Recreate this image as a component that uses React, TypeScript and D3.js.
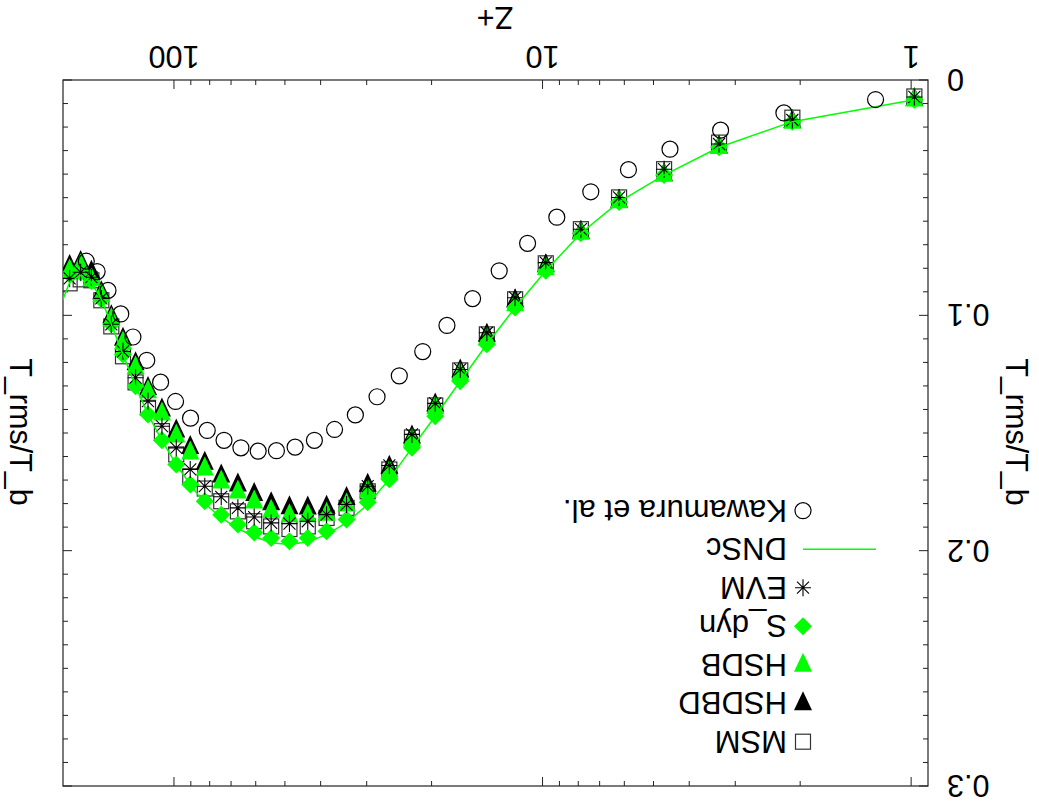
import React from 'react';
import * as d3 from 'd3';

// Z+ grid of the LES runs and DNS
const zLES = [0.98, 2.10, 3.32, 4.68, 6.20, 7.87, 9.80, 11.87, 14.16, 16.72, 19.55, 22.61, 26.04, 29.81, 34.02, 38.54, 43.35, 48.60, 54.49, 60.58, 67.08, 74.43, 82.49, 90.33, 98.58, 107.8, 117.6, 127.1, 137.5, 147.9, 157.4, 167.5, 179.1, 191.9];

const tMSM = [0.0070, 0.0160, 0.0266, 0.0379, 0.0499, 0.0634, 0.0779, 0.0932, 0.1081, 0.1234, 0.1383, 0.1519, 0.1655, 0.1748, 0.1818, 0.1861, 0.1897, 0.1908, 0.1897, 0.1875, 0.1833, 0.1790, 0.1736, 0.1684, 0.1591, 0.1492, 0.1393, 0.1285, 0.1174, 0.1047, 0.0936, 0.0851, 0.0847, 0.0864];
const tHSDBD = [0.0081, 0.0174, 0.0283, 0.0400, 0.0513, 0.0645, 0.0787, 0.0936, 0.1083, 0.1234, 0.1379, 0.1515, 0.1643, 0.1720, 0.1776, 0.1813, 0.1817, 0.1816, 0.1798, 0.1759, 0.1719, 0.1681, 0.1626, 0.1560, 0.1489, 0.1400, 0.1309, 0.1204, 0.1100, 0.1004, 0.0902, 0.0815, 0.0773, 0.0790];
const tHSDB = [0.0083, 0.0177, 0.0285, 0.0402, 0.0515, 0.0649, 0.0800, 0.0953, 0.1098, 0.1247, 0.1391, 0.1528, 0.1664, 0.1745, 0.1804, 0.1843, 0.1849, 0.1849, 0.1830, 0.1791, 0.1749, 0.1706, 0.1651, 0.1583, 0.1511, 0.1417, 0.1323, 0.1221, 0.1115, 0.1017, 0.0915, 0.0847, 0.0787, 0.0809];
const tSdyn = [0.0084, 0.0177, 0.0286, 0.0404, 0.0518, 0.0651, 0.0811, 0.0967, 0.1123, 0.1280, 0.1429, 0.1563, 0.1696, 0.1794, 0.1868, 0.1918, 0.1946, 0.1960, 0.1946, 0.1923, 0.1889, 0.1847, 0.1790, 0.1719, 0.1634, 0.1531, 0.1421, 0.1301, 0.1166, 0.1038, 0.0932, 0.0854, 0.0818, 0.0826];
const tEVM = [0.0072, 0.0170, 0.0272, 0.0379, 0.0499, 0.0634, 0.0776, 0.0925, 0.1074, 0.1230, 0.1374, 0.1506, 0.1638, 0.1726, 0.1804, 0.1847, 0.1875, 0.1885, 0.1882, 0.1857, 0.1818, 0.1771, 0.1726, 0.1655, 0.1563, 0.1471, 0.1365, 0.1265, 0.1153, 0.1038, 0.0928, 0.0838, 0.0817, 0.0843];

const zDNS = [0.98, 2.10, 3.32, 4.68, 6.20, 7.87, 9.80, 11.87, 14.16, 16.72, 19.55, 22.61, 26.04, 29.81, 34.02, 38.54, 43.35, 48.60, 54.49, 60.58, 67.08, 74.43, 82.49, 90.33, 98.58, 107.8, 117.6, 127.1, 137.5, 147.9, 157.4, 167.5, 179.1, 191.9, 205];
const tDNS = [0.0084, 0.0177, 0.0286, 0.0404, 0.0518, 0.0651, 0.0811, 0.0967, 0.1123, 0.1280, 0.1429, 0.1563, 0.1696, 0.1804, 0.1881, 0.1932, 0.1962, 0.1974, 0.1966, 0.1940, 0.1906, 0.1860, 0.1800, 0.1719, 0.1634, 0.1531, 0.1421, 0.1301, 0.1166, 0.1038, 0.0932, 0.0860, 0.0830, 0.0860, 0.0974];

const zKaw = [1.249, 2.214, 3.288, 4.511, 5.847, 7.398, 9.148, 10.98, 13.11, 15.48, 18.17, 21.14, 24.47, 28.12, 32.20, 36.67, 41.59, 46.92, 52.72, 59.09, 65.82, 73.14, 81.23, 90.16, 99.01, 108.7, 118.5, 129.2, 139.4, 151.0, 161.6, 172.9];
const tKaw = [0.0083, 0.0140, 0.0213, 0.0294, 0.0381, 0.0475, 0.0583, 0.0694, 0.0811, 0.0929, 0.1043, 0.1154, 0.1257, 0.1346, 0.1423, 0.1485, 0.1531, 0.1560, 0.1575, 0.1577, 0.1563, 0.1531, 0.1489, 0.1437, 0.1366, 0.1284, 0.1191, 0.1092, 0.0994, 0.0894, 0.0814, 0.0770];

const xMajor = [1, 10, 100];
const xMinor = [2, 3, 4, 5, 6, 7, 8, 9, 20, 30, 40, 50, 60, 70, 80, 90];
const yMajor = [0, 0.1, 0.2, 0.3];
const yTickLabels = ['0', '0.1', '0.2', '0.3'];
const xTickLabels = ['1', '10', '100'];
const legendLabels = ['MSM', 'HSDBD', 'HSDB', 'S_dyn', 'EVM', 'DNSc', 'Kawamura et al.'];

const W = 1039, H = 809;
const L = 111, R = 976, T = 23, B = 729;
const GREEN = '#00ff00';
const FONT = '"Liberation Sans", Arial, Helvetica, sans-serif';
const FS = 30.5;
const FSL = 31;

type Kind = 'square' | 'downtri' | 'diamond' | 'asterisk' | 'circle' | 'line';

function shape(kind: Kind, cx: number, cy: number, fill: string, key: string) {
  switch (kind) {
    case 'square':
      return <rect key={key} x={cx - 7.5} y={cy - 7.5} width={15} height={15} fill="none" stroke="#333" strokeWidth={1.2} />;
    case 'downtri':
      return <path key={key} d={`M${cx},${cy + 12}L${cx - 9},${cy - 7}L${cx + 9},${cy - 7}Z`} fill={fill} stroke="none" />;
    case 'diamond':
      return <path key={key} d={`M${cx},${cy - 9}L${cx + 9},${cy}L${cx},${cy + 9}L${cx - 9},${cy}Z`} fill={fill} />;
    case 'asterisk':
      return <path key={key} d={`M${cx - 8},${cy}H${cx + 8}M${cx},${cy - 8.5}V${cy + 8.5}M${cx - 6},${cy - 6}L${cx + 6},${cy + 6}M${cx - 6},${cy + 6}L${cx + 6},${cy - 6}`} stroke="#000" strokeWidth={1.1} fill="none" />;
    case 'circle':
      return <circle key={key} cx={cx} cy={cy} r={8} fill="none" stroke="#000" strokeWidth={1.2} />;
    default:
      return null;
  }
}

export default function App() {
  const x = d3.scaleLog().domain([0.9, 200]).range([L, R]);
  const y = d3.scaleLinear().domain([0, 0.3]).range([B, T]);
  const yMinor = d3.range(1, 30).filter(i => i % 10 !== 0).map(i => i / 100);

  const series: { z: number[]; t: number[]; kind: Kind; fill: string }[] = [
    { z: zLES, t: tMSM, kind: 'square', fill: 'none' },
    { z: zLES, t: tHSDBD, kind: 'downtri', fill: '#000' },
    { z: zLES, t: tHSDB, kind: 'downtri', fill: GREEN },
    { z: zLES, t: tSdyn, kind: 'diamond', fill: GREEN },
    { z: zLES, t: tEVM, kind: 'asterisk', fill: 'none' },
  ];

  const line = d3.line<[number, number]>().x(d => x(d[0])).y(d => y(d[1]));
  const dnsPts = zDNS.map((z, i) => [z, tDNS[i]] as [number, number]);

  const legendKinds: Kind[] = ['square', 'downtri', 'downtri', 'diamond', 'asterisk', 'line', 'circle'];
  const legendFills = ['none', '#000', GREEN, GREEN, 'none', 'none', 'none'];

  return (
    <svg width={W} height={H} style={{ position: 'absolute', left: 0, top: 0, background: '#fff' }} fontFamily={FONT}>
      <rect x={0} y={0} width={W} height={H} fill="#fff" />
      <defs>
        <clipPath id="plotclip"><rect x={L} y={T} width={R - L} height={B - T} /></clipPath>
      </defs>
      <g transform={`rotate(180 ${W / 2} ${H / 2})`}>
        {/* ticks */}
        <g stroke="#222" strokeWidth={1}>
          {xMajor.map(v => (
            <g key={'xM' + v}>
              <line x1={x(v)} x2={x(v)} y1={B} y2={B - 9} />
              <line x1={x(v)} x2={x(v)} y1={T} y2={T + 9} />
            </g>
          ))}
          {xMinor.map(v => (
            <g key={'xm' + v}>
              <line x1={x(v)} x2={x(v)} y1={B} y2={B - 5} />
              <line x1={x(v)} x2={x(v)} y1={T} y2={T + 5} />
            </g>
          ))}
          {yMajor.map(v => (
            <g key={'yM' + v}>
              <line x1={L} x2={L + 9} y1={y(v)} y2={y(v)} />
              <line x1={R} x2={R - 9} y1={y(v)} y2={y(v)} />
            </g>
          ))}
          {yMinor.map(v => (
            <g key={'ym' + v}>
              <line x1={L} x2={L + 5} y1={y(v)} y2={y(v)} />
              <line x1={R} x2={R - 5} y1={y(v)} y2={y(v)} />
            </g>
          ))}
        </g>
        <rect x={L} y={T} width={R - L} height={B - T} fill="none" stroke="#222" strokeWidth={1.2} />

        {/* tick labels */}
        {xMajor.map((v, i) => (
          <text key={'xl' + v} x={x(v)} y={763} textAnchor="middle" fontSize={FS}>{xTickLabels[i]}</text>
        ))}
        {yMajor.map((v, i) => (
          <text key={'yl' + v} x={92} y={y(v) + 11} textAnchor="end" fontSize={FS}>{yTickLabels[i]}</text>
        ))}

        {/* axis labels */}
        <text x={544} y={802} textAnchor="middle" fontSize={FS}>Z+</text>
        <text transform={`translate(22,377) rotate(-90)`} textAnchor="middle" dominantBaseline="central" fontSize={FS}>T_rms/T_b</text>
        <text transform={`translate(1018,377) rotate(-90)`} textAnchor="middle" dominantBaseline="central" fontSize={FS}>T_rms/T_b</text>

        {/* data */}
        <g clipPath="url(#plotclip)">
          {series.map((s, si) => (
            <g key={'s' + si}>
              {s.z.map((z, i) => shape(s.kind, x(z), y(s.t[i]), s.fill, `p${si}-${i}`))}
            </g>
          ))}
          <path d={line(dnsPts) || ''} fill="none" stroke={GREEN} strokeWidth={1.5} />
          <g>
            {zKaw.map((z, i) => shape('circle', x(z), y(tKaw[i]), 'none', 'k' + i))}
          </g>
        </g>

        {/* legend */}
        {legendLabels.map((lab, i) => {
          const ly = 67.3 + i * 38.5;
          const mx = 236;
          return (
            <g key={'lg' + i}>
              {legendKinds[i] === 'line'
                ? <line x1={163} x2={236} y1={ly} y2={ly} stroke={GREEN} strokeWidth={1.5} />
                : shape(legendKinds[i], mx, ly, legendFills[i], 'lm' + i)}
              <text x={252} y={ly + 11} fontSize={FSL}>{lab}</text>
            </g>
          );
        })}
      </g>
    </svg>
  );
}
